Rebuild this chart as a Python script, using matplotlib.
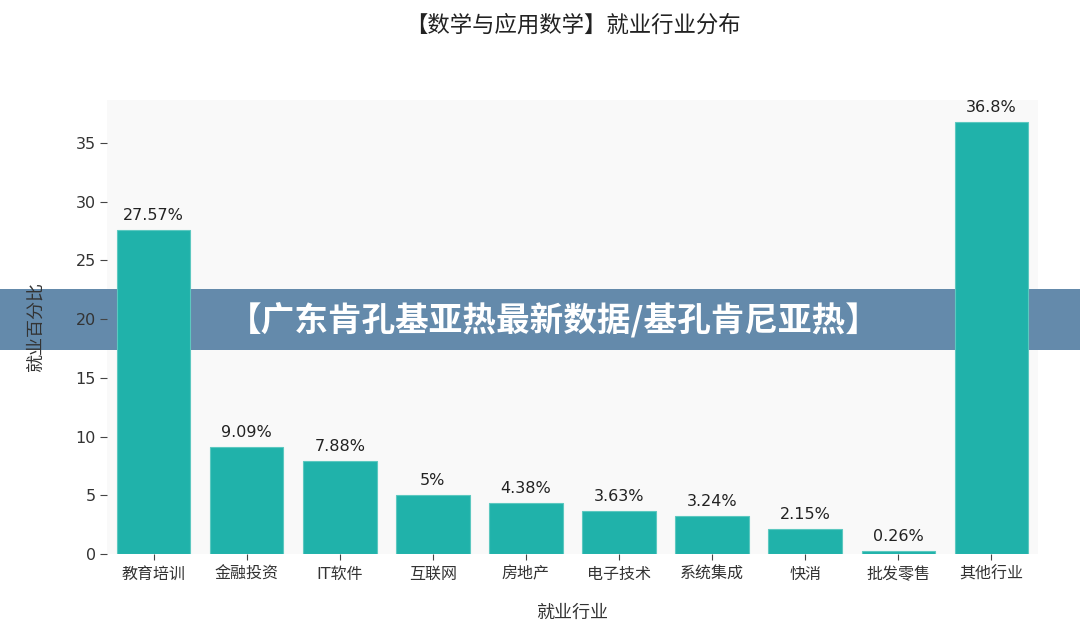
import matplotlib
matplotlib.use("Agg")
import matplotlib.pyplot as plt
from matplotlib.patches import Rectangle

plt.rcParams['font.family'] = ['DejaVu Sans', 'Noto Sans CJK SC']

categories = ["教育培训", "金融投资", "IT软件", "互联网", "房地产", "电子技术", "系统集成", "快消", "批发零售", "其他行业"]
values = [27.57, 9.09, 7.88, 5, 4.38, 3.63, 3.24, 2.15, 0.26, 36.8]
value_labels = ["27.57%", "9.09%", "7.88%", "5%", "4.38%", "3.63%", "3.24%", "2.15%", "0.26%", "36.8%"]
y_ticks = [0, 5, 10, 15, 20, 25, 30, 35]

W, H = 1080, 640
fig = plt.figure(figsize=(W / 100, H / 100), dpi=100)
fig.patch.set_facecolor("white")

# axes position in pixels
x0, x1 = 107, 1038
y_top, y_bot = 100, 554
pos = [x0 / W, 1 - y_bot / H, (x1 - x0) / W, (y_bot - y_top) / H]

bg = fig.add_axes([0, 0, 1, 1], zorder=0)
bg.set_xlim(0, W)
bg.set_ylim(H, 0)
bg.axis("off")
bg.add_patch(Rectangle((x0, y_top), x1 - x0, y_bot - y_top, facecolor="#f9f9f9", edgecolor="none"))
bg.add_patch(Rectangle((0, 289), W, 61, facecolor="#648aab", edgecolor="none"))
bg.text(554, 320, "【广东肯孔基亚热最新数据/基孔肯尼亚热】", color="white",
        fontsize=24.2, fontweight="heavy", ha="center", va="center",
        family=["Noto Sans CJK SC", "DejaVu Sans"])

ax = fig.add_axes(pos, zorder=1)
ax.patch.set_alpha(0)
x = list(range(len(categories)))
ax.bar(x, values, width=0.79, color="#20b2aa", edgecolor="#5cc8c0", linewidth=0.8, zorder=2)
for xi, v, lab in zip(x, values, value_labels):
    ax.annotate(lab, (xi, v), xytext=(0, 5), textcoords="offset points",
                ha="center", va="bottom", fontsize=11.5, color="#222222")

ax.set_xlim(-0.5, len(categories) - 0.5)
ax.set_ylim(0, 38.64)
ax.set_yticks(y_ticks)
ax.set_xticks(x)
ax.set_xticklabels(categories)
for s in ax.spines.values():
    s.set_visible(False)
ax.tick_params(axis="y", length=5, width=0.8, color="#444444", labelcolor="#333333", labelsize=11.5, pad=3)
ax.tick_params(axis="x", length=4, width=0.8, color="#444444", labelcolor="#333333", labelsize=11.5, pad=5)
ax.set_xlabel("就业行业", fontsize=13, color="#333333", labelpad=16)
ax.set_ylabel("就业百分比", fontsize=13, color="#333333", labelpad=22)

fig.text((x0 + x1) / 2 / W, 1 - 25 / H, "【数学与应用数学】就业行业分布", ha="center", va="center",
         fontsize=16.1, color="#222222")

fig.savefig("out.png", dpi=100)
